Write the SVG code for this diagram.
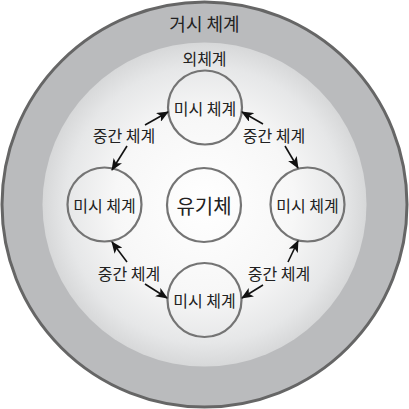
<svg xmlns="http://www.w3.org/2000/svg" width="409" height="409" viewBox="0 0 409 409">
<defs>
<radialGradient id="inner" cx="204.5" cy="204.5" r="163" gradientUnits="userSpaceOnUse">
<stop offset="0" stop-color="#ffffff"/>
<stop offset="0.55" stop-color="#f7f7f7"/>
<stop offset="0.85" stop-color="#e6e7e8"/>
<stop offset="1" stop-color="#d6d7d8"/>
</radialGradient>
<marker id="ah" viewBox="0 0 12 10" refX="11" refY="5" markerWidth="12" markerHeight="10" markerUnits="userSpaceOnUse" orient="auto">
<path d="M0,0 L12,5 L0,10 L3,5 Z" fill="#111"/>
</marker>
<style>
text{font-family:"Noto Sans CJK KR","Noto Sans",sans-serif;fill:#222;text-anchor:middle;dominant-baseline:central}
.node circle{fill:none;stroke:#747474;stroke-width:2.2}
.t15{font-size:16px}
.conn line{stroke:#111;stroke-width:1.6;marker-end:url(#ah)}
</style>
</defs>
<rect width="409" height="409" fill="#ffffff"/>
<g id="macro">
<circle cx="204.5" cy="204.5" r="202.5" fill="#babbbd" stroke="#666" stroke-width="3"/>
<text x="204.5" y="23" style="font-size:18px">거시 체계</text>
</g>
<g id="exo">
<circle cx="204.5" cy="204.5" r="162" fill="url(#inner)"/>
<text x="204.5" y="58" class="t15">외체계</text>
</g>
<g id="micro-top" class="node"><circle cx="205" cy="107.5" r="37"/><text x="205" y="107.5" class="t15">미시 체계</text></g>
<g id="micro-left" class="node"><circle cx="104.5" cy="204.5" r="37"/><text x="104.5" y="204.5" class="t15">미시 체계</text></g>
<g id="organism" class="node"><circle cx="204" cy="205" r="37"/><text x="204" y="205" style="font-size:20px">유기체</text></g>
<g id="micro-right" class="node"><circle cx="307.5" cy="204.5" r="37"/><text x="307.5" y="204.5" class="t15">미시 체계</text></g>
<g id="micro-bottom" class="node"><circle cx="204.5" cy="300" r="37"/><text x="204.5" y="300" class="t15">미시 체계</text></g>
<g id="connectors" class="conn">
<line x1="145" y1="125" x2="168" y2="112"/>
<line x1="127" y1="146" x2="112" y2="170"/>
<line x1="263" y1="124" x2="242" y2="112"/>
<line x1="285" y1="146" x2="298" y2="168"/>
<line x1="127" y1="262" x2="112" y2="242"/>
<line x1="145" y1="284" x2="167" y2="298"/>
<line x1="288" y1="262" x2="298" y2="241"/>
<line x1="263" y1="285" x2="242" y2="298"/>
</g>
<g id="labels">
<text x="124" y="135" class="t15">중간 체계</text>
<text x="274" y="135" class="t15">중간 체계</text>
<text x="129" y="273" class="t15">중간 체계</text>
<text x="279" y="273" class="t15">중간 체계</text>
</g>
</svg>
